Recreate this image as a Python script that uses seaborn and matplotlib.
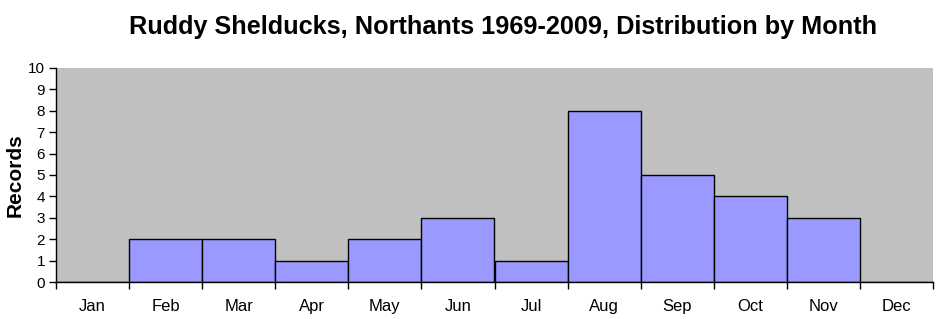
import matplotlib
matplotlib.use("Agg")
import matplotlib.pyplot as plt
import seaborn as sns
import pandas as pd
import numpy as np

months = ["Jan", "Feb", "Mar", "Apr", "May", "Jun", "Jul", "Aug", "Sep", "Oct", "Nov", "Dec"]
records = [0, 2, 2, 1, 2, 3, 1, 8, 5, 4, 3, 0]
yticks = list(range(0, 11))

sns.set_theme(style="white")
plt.rcParams['font.family'] = ['Liberation Sans', 'DejaVu Sans']
plt.rcParams['text.color'] = 'black'
plt.rcParams['axes.labelcolor'] = 'black'
plt.rcParams['xtick.color'] = 'black'
plt.rcParams['ytick.color'] = 'black'

df = pd.DataFrame({"Month": months, "Records": records})

fig = plt.figure(figsize=(9.42, 3.19), dpi=100)
ax = fig.add_axes([56/942, 1-282/319, (933-56)/942, (282-68)/319])
ax.set_facecolor("#C0C0C0")

sns.barplot(data=df, x="Month", y="Records", order=months, color="#9999FF",
            width=1.0, edgecolor="black", linewidth=1.0, saturation=1, ax=ax)

ax.set_xlim(-0.5, 11.5)
ax.set_ylim(0, 10)
ax.set_yticks(yticks)
ax.set_yticklabels([str(t) for t in yticks], fontsize=11, color="black")
ax.set_xticks(range(12))
ax.set_xticklabels(months, fontsize=12, color="black")
ax.set_xticks(np.arange(-0.5, 12, 1), minor=True)
ax.tick_params(axis="x", which="major", length=0, pad=12, colors="black")
ax.tick_params(axis="x", which="minor", length=5, width=1, color="black", direction="out", bottom=True)
ax.tick_params(axis="y", which="major", length=5, width=1, color="black", direction="out", left=True, pad=3)

for s in ["top", "right"]:
    ax.spines[s].set_visible(False)
for s in ["left", "bottom"]:
    ax.spines[s].set_color("black")
    ax.spines[s].set_linewidth(1)

ax.set_xlabel("")
ax.set_ylabel("Records", fontsize=15, fontweight="bold", labelpad=2, color="black")
fig.text(503/942, 1-27/319, "Ruddy Shelducks, Northants 1969-2009, Distribution by Month",
         ha="center", va="center", fontsize=18.2, fontweight="bold", color="black",
         family=["Liberation Sans Narrow", "Liberation Sans", "DejaVu Sans"])

fig.savefig("out.png", dpi=100, facecolor="white")
